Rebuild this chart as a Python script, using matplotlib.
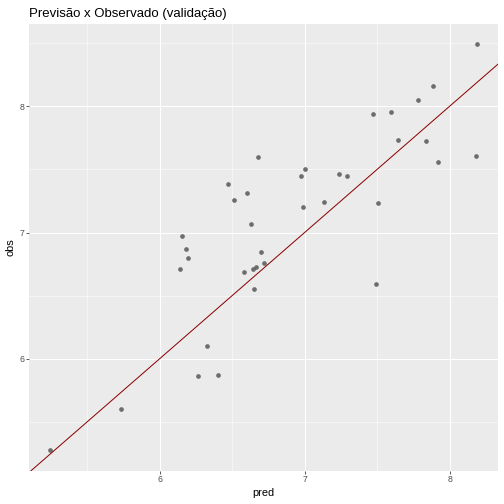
import numpy as np
import matplotlib
matplotlib.use("Agg")
from matplotlib import pyplot as plt
from matplotlib import ticker

plt.rcParams['font.family'] = ['Liberation Sans', 'DejaVu Sans']

# valores
pred = [8.186, 7.883, 7.782, 7.594, 7.472, 7.646, 7.835, 8.183, 7.919, 6.678,
        7.006, 6.976, 7.240, 7.290, 6.475, 6.604, 6.514, 7.136, 7.506, 6.992,
        6.632, 6.154, 6.182, 6.196, 6.696, 6.143, 6.583, 6.645, 6.668, 6.723,
        6.650, 7.490, 6.329, 6.264, 6.404, 5.736, 5.247]
obs = [8.490, 8.163, 8.050, 7.955, 7.942, 7.731, 7.724, 7.607, 7.555, 7.597,
       7.500, 7.447, 7.465, 7.447, 7.384, 7.315, 7.257, 7.239, 7.231, 7.200,
       7.066, 6.971, 6.873, 6.797, 6.847, 6.712, 6.688, 6.710, 6.728, 6.760,
       6.552, 6.589, 6.102, 5.865, 5.875, 5.599, 5.275]

titulo = "Previsão x Observado (validação)"

fig = plt.figure(figsize=(7, 7), dpi=72)
ax = fig.add_axes([29/504, 1 - 470.7/504, (498 - 29)/504, (470.7 - 24)/504])
ax.set_facecolor("#EBEBEB")
for s in ax.spines.values():
    s.set_visible(False)

# limites com expansao de 5% como no ggplot
def expand(v):
    lo, hi = min(v), max(v)
    d = (hi - lo) * 0.05
    return lo - d, hi + d

ax.set_xlim(expand(pred))
ax.set_ylim(expand(obs))

ax.xaxis.set_major_locator(ticker.MultipleLocator(1))
ax.yaxis.set_major_locator(ticker.MultipleLocator(1))
ax.xaxis.set_minor_locator(ticker.MultipleLocator(0.5))
ax.yaxis.set_minor_locator(ticker.MultipleLocator(0.5))
ax.xaxis.set_major_formatter(ticker.FormatStrFormatter("%d"))
ax.yaxis.set_major_formatter(ticker.FormatStrFormatter("%d"))
ax.grid(which="major", color="white", lw=1.07)
ax.grid(which="minor", color="white", lw=0.53)
ax.set_axisbelow(True)
ax.tick_params(which="major", length=2.75, width=0.8, color="#333333",
               labelsize=8.8, labelcolor="#4D4D4D", pad=2)
ax.tick_params(which="minor", length=0)

ax.scatter(pred, obs, s=22, color="#5F5F5F", alpha=0.9, linewidths=0, zorder=3)
ax.axline((6, 6), slope=1, color="#8B0000", lw=1.0, zorder=4)

ax.set_xlabel("pred", fontsize=11, labelpad=4)
ax.set_ylabel("obs", fontsize=11, labelpad=4)
ax.set_title(titulo, fontsize=13.2, loc="left", pad=7)

fig.savefig("out.png", dpi=72)
